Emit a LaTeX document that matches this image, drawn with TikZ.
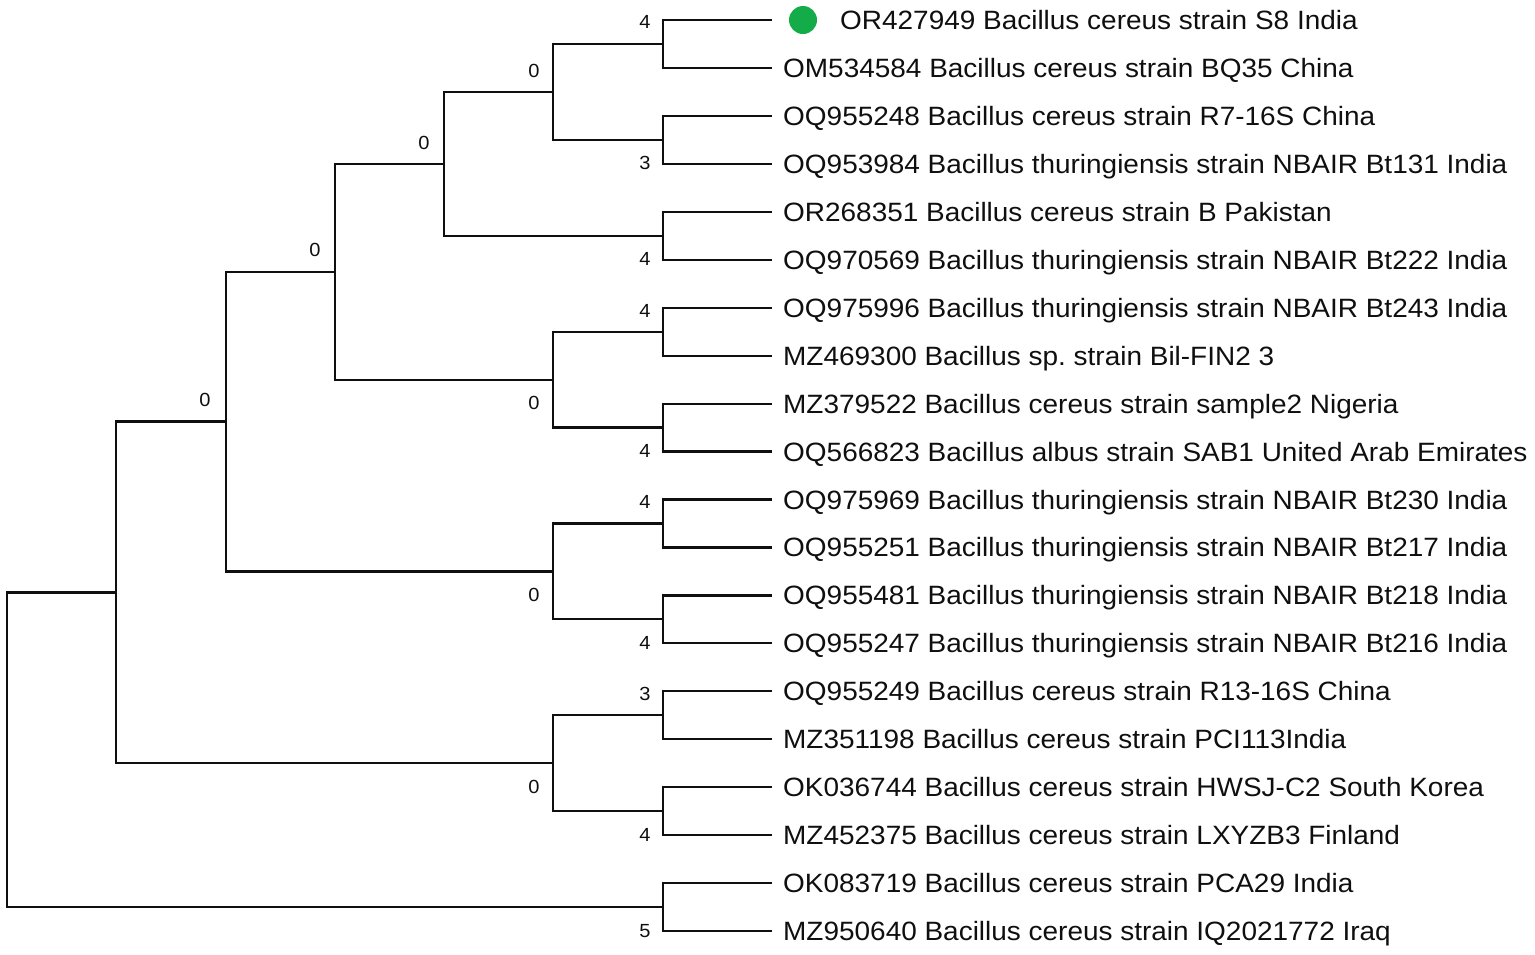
\documentclass[tikz,border=0pt]{standalone}
\usepackage{fontspec}
\setmainfont{Liberation Sans}
\newfontfamily\labfont{Liberation Sans}[FakeStretch=1.055]
\definecolor{dotgreen}{RGB}{20,172,72}
\definecolor{ink}{RGB}{15,15,15}
\frenchspacing
\begin{document}
\begin{tikzpicture}[x=1pt,y=-1pt,
  br/.style={line width=2.2pt, ink},
  lab/.style={anchor=base west, inner sep=0pt, text=ink, font=\labfont\fontsize{26.5}{30}\selectfont},
  bs/.style={inner sep=0pt, text=ink, font=\labfont\fontsize{19}{21}\selectfont}]
\useasboundingbox (0,0) rectangle (1535,954);
% leaf ends
\foreach \i in {0,...,19}{
  \coordinate (e\i) at (772,{20+47.95*\i});
}
% cherries x=663
\coordinate (cA) at (663,43.98);
\coordinate (cB) at (663,139.88);
\coordinate (cC) at (663,235.78);
\coordinate (cD) at (663,331.68);
\coordinate (cE) at (663,427.58);
\coordinate (cF) at (663,523.48);
\coordinate (cG) at (663,619.38);
\coordinate (cH) at (663,715.28);
\coordinate (cI) at (663,811.18);
\coordinate (cJ) at (663,907.08);
% x=553
\coordinate (nAB) at (553,91.93);
\coordinate (nDE) at (553,379.63);
\coordinate (nFG) at (553,571.43);
\coordinate (nHI) at (553,763.23);
% deeper
\coordinate (nABC) at (444,163.85);
\coordinate (nAE) at (335,271.74);
\coordinate (nAG) at (226,421.58);
\coordinate (nAI) at (116,592.4);
\coordinate (root) at (7,749.74);
% leaf branches
\foreach \c/\a/\b in {cA/0/1,cB/2/3,cC/4/5,cD/6/7,cE/8/9,cF/10/11,cG/12/13,cH/14/15,cI/16/17,cJ/18/19}{
  \draw[br] (\c) |- (e\a);
  \draw[br] (\c) |- (e\b);
}
% internal branches
\foreach \p/\a/\b in {nAB/cA/cB,nDE/cD/cE,nFG/cF/cG,nHI/cH/cI,nABC/nAB/cC,nAE/nABC/nDE,nAG/nAE/nFG,nAI/nAG/nHI,root/nAI/cJ}{
  \draw[br] (\p) |- (\a);
  \draw[br] (\p) |- (\b);
}
% green marker
\node[circle, fill=dotgreen, minimum size=28pt, inner sep=0pt] (dot) at (803,20) {};
% leaf labels
\node[lab] (l0) at (840,29.5) {OR427949 Bacillus cereus strain S8 India};
\node[lab] (l1) at (783,{29.5+47.95*1}) {OM534584 Bacillus cereus strain BQ35 China};
\node[lab] (l2) at (783,{29.5+47.95*2}) {OQ955248 Bacillus cereus strain R7-16S China};
\node[lab] (l3) at (783,{29.5+47.95*3}) {OQ953984 Bacillus thuringiensis strain NBAIR Bt131 India};
\node[lab] (l4) at (783,{29.5+47.95*4}) {OR268351 Bacillus cereus strain B Pakistan};
\node[lab] (l5) at (783,{29.5+47.95*5}) {OQ970569 Bacillus thuringiensis strain NBAIR Bt222 India};
\node[lab] (l6) at (783,{29.5+47.95*6}) {OQ975996 Bacillus thuringiensis strain NBAIR Bt243 India};
\node[lab] (l7) at (783,{29.5+47.95*7}) {MZ469300 Bacillus sp. strain Bil-FIN2 3};
\node[lab] (l8) at (783,{29.5+47.95*8}) {MZ379522 Bacillus cereus strain sample2 Nigeria};
\node[lab] (l9) at (783,{29.5+47.95*9}) {OQ566823 Bacillus albus strain SAB1 United Arab Emirates};
\node[lab] (l10) at (783,{29.5+47.95*10}) {OQ975969 Bacillus thuringiensis strain NBAIR Bt230 India};
\node[lab] (l11) at (783,{29.5+47.95*11}) {OQ955251 Bacillus thuringiensis strain NBAIR Bt217 India};
\node[lab] (l12) at (783,{29.5+47.95*12}) {OQ955481 Bacillus thuringiensis strain NBAIR Bt218 India};
\node[lab] (l13) at (783,{29.5+47.95*13}) {OQ955247 Bacillus thuringiensis strain NBAIR Bt216 India};
\node[lab] (l14) at (783,{29.5+47.95*14}) {OQ955249 Bacillus cereus strain R13-16S China};
\node[lab] (l15) at (783,{29.5+47.95*15}) {MZ351198 Bacillus cereus strain PCI113India};
\node[lab] (l16) at (783,{29.5+47.95*16}) {OK036744 Bacillus cereus strain HWSJ-C2 South Korea};
\node[lab] (l17) at (783,{29.5+47.95*17}) {MZ452375 Bacillus cereus strain LXYZB3 Finland};
\node[lab] (l18) at (783,{29.5+47.95*18}) {OK083719 Bacillus cereus strain PCA29 India};
\node[lab] (l19) at (783,{29.5+47.95*19}) {MZ950640 Bacillus cereus strain IQ2021772 Iraq};
% bootstrap values
\node[bs] (b1) at (645,22) {4};
\node[bs] (b2) at (534,71) {0};
\node[bs] (b3) at (645,163) {3};
\node[bs] (b4) at (424,143) {0};
\node[bs] (b5) at (645,259) {4};
\node[bs] (b6) at (315,250) {0};
\node[bs] (b7) at (645,311) {4};
\node[bs] (b8) at (534,403) {0};
\node[bs] (b9) at (645,451) {4};
\node[bs] (b10) at (205,400) {0};
\node[bs] (b11) at (645,502) {4};
\node[bs] (b12) at (534,595) {0};
\node[bs] (b13) at (645,643) {4};
\node[bs] (b14) at (645,694) {3};
\node[bs] (b15) at (534,787) {0};
\node[bs] (b16) at (645,835) {4};
\node[bs] (b17) at (645,931) {5};
\end{tikzpicture}
\end{document}
